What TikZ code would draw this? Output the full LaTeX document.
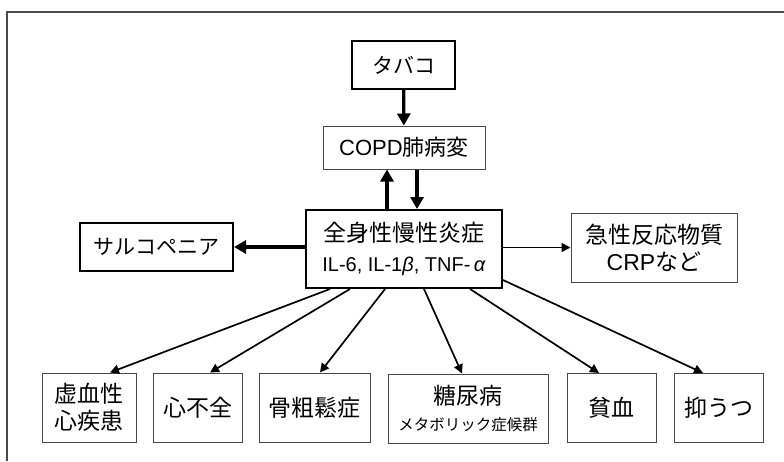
\documentclass[tikz,border=0pt]{standalone}
\usepackage{fontspec}
\setmainfont{Liberation Sans}
\newfontfamily\jp{Noto Sans CJK JP}
\usetikzlibrary{arrows.meta}
\definecolor{thin}{HTML}{4A4A4A}
\tikzset{
  thickbox/.style={draw=black, line width=2pt, inner sep=0pt, align=center},
  thinbox/.style={draw=thin, line width=1pt, inner sep=0pt, align=center},
  bigarrow/.style={line width=3.2pt, -{Triangle[length=12pt,width=13pt]}},
  smallarrow/.style={line width=1.7pt, -{Triangle[length=9pt,width=9pt]}},
}
\begin{document}
\begin{tikzpicture}[x=1pt,y=-1pt]
\useasboundingbox (0,0) rectangle (784,461);
\draw[line width=1.2pt, color=thin] (784,12) -- (7,12) -- (7,461);

\node[thickbox, minimum width=103pt, minimum height=48pt, font=\jp\fontsize{21}{24}\selectfont] (tab) at (403.5,65) {タバコ};
\node[thinbox, minimum width=162pt, minimum height=43pt, font=\fontsize{22}{26}\selectfont] (copd) at (404,147.5) {COPD{\jp 肺病変}};
\node[thickbox, minimum width=196pt, minimum height=78pt, font=\fontsize{23}{30}\selectfont] (cen) at (404,249) {{\jp 全身性慢性炎症}\\{\fontsize{20}{24}\selectfont IL-6, IL-1\textit{β}, TNF-\,\textit{α}}};
\node[thickbox, minimum width=153pt, minimum height=48pt, font=\jp\fontsize{21}{24}\selectfont] (sar) at (156.5,247) {サルコペニア};
\node[thinbox, minimum width=166pt, minimum height=69pt, font=\fontsize{23}{27}\selectfont] (crp) at (654,247.5) {{\jp 急性反応物質}\\CRP{\jp など}};

\tikzset{bot/.style={thinbox, minimum height=69pt, font=\jp\fontsize{23}{27}\selectfont}}
\node[bot, minimum width=94pt] (b1) at (89,407.5) {虚血性\\心疾患};
\node[bot, minimum width=89pt] (b2) at (197.5,407.5) {心不全};
\node[bot, minimum width=111pt] (b3) at (314.5,407.5) {骨粗鬆症};
\node[bot, minimum width=160pt] (b4) at (468,408.5) {糖尿病\\[-1pt]{\fontsize{15.5}{18}\selectfont メタボリック症候群}};
\node[bot, minimum width=89pt] (b5) at (611.5,408) {貧血};
\node[bot, minimum width=89pt] (b6) at (718.5,408) {抑うつ};

\draw[bigarrow] (tab) -- (copd);
\draw[bigarrow] ([xshift=-17pt]cen.north) -- ([xshift=-17pt]copd.south);
\draw[bigarrow] ([xshift=13pt]copd.south) -- ([xshift=13pt]cen.north);
\draw[bigarrow] (cen.west |- sar.east) -- (sar.east);
\draw[smallarrow] (cen.east |- crp.west) -- (crp.west);

\draw[smallarrow] ([xshift=-74pt]cen.south) -- ([xshift=21pt]b1.north);
\draw[smallarrow] ([xshift=-54pt]cen.south) -- ([xshift=12.5pt]b2.north);
\draw[smallarrow] ([xshift=-19pt]cen.south) -- ([xshift=5.5pt]b3.north);
\draw[smallarrow] ([xshift=20pt]cen.south) -- ([xshift=-6pt]b4.north);
\draw[smallarrow] ([xshift=66pt]cen.south) -- ([xshift=-12.5pt]b5.north);
\draw[smallarrow] ([yshift=-31pt]cen.east) -- ([xshift=-15.5pt]b6.north);
\end{tikzpicture}
\end{document}
